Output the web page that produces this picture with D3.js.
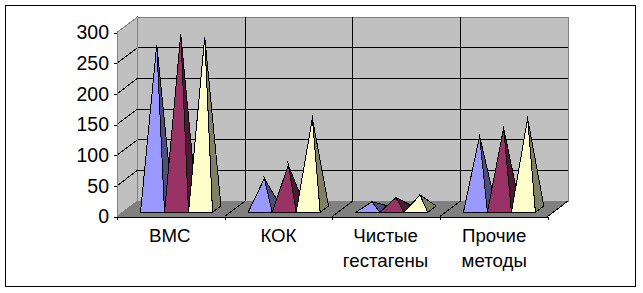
<!DOCTYPE html>
<html><head><meta charset="utf-8">
<script src="https://cdn.jsdelivr.net/npm/d3@7"></script>
<style>html,body{margin:0;padding:0;background:#fff}svg{display:block}text{font-family:"Liberation Sans",Arial,sans-serif;fill:#000}path,line,rect{shape-rendering:crispEdges}</style>
</head><body><svg id="c" width="643" height="293"></svg>
<script>
const categories = [["ВМС"], ["КОК"], ["Чистые", "гестагены"], ["Прочие", "методы"]];
const seriesNames = ["s1", "s2", "s3"];
const seriesA = [268, 50, 12, 119];
const seriesB = [285, 72, 19, 132];
const seriesC = [281, 148, 23, 148];
const seriesValues = [seriesA, seriesB, seriesC];
const frontColors = ["#9999ff", "#993366", "#ffffcc"];
const sideColors = ["#4d4d80", "#4d1a33", "#808066"];
const yTicks = [0, 50, 100, 150, 200, 250, 300];
const labelDx = [-1, 0, -0.5, 0.5];

const svg = d3.select("#c");
svg.append("rect").attr("x", 5.5).attr("y", 5.5).attr("width", 630).attr("height", 281)
  .attr("fill", "#fff").attr("stroke", "#000");

const x0 = d3.scaleBand().domain(d3.range(categories.length)).range([117, 547.5]);
const x1 = d3.scaleBand().domain(seriesNames).range([18, 90]);
const y = d3.scaleLinear().domain([0, 300]).range([216.5, 32.5]);
const depthX = 20.5, depthY = 15.5;
const p = (x, v, d) => [x + depthX * d, y(v) - depthY * d];
const poly = pts => "M" + pts.map(q => q.join(",")).join("L") + "Z";
const xL = x0.range()[0], xR = x0.range()[1], yMax = 300;

// walls and floor
svg.append("path").attr("d", poly([p(xL,0,1), p(xL,yMax,1), p(xR,yMax,1), p(xR,0,1)]))
  .attr("fill", "#c0c0c0").attr("stroke", "#808080");
svg.append("path").attr("d", poly([p(xL,0,0), p(xL,yMax,0), p(xL,yMax,1), p(xL,0,1)]))
  .attr("fill", "#c0c0c0").attr("stroke", "#808080");
svg.append("path").attr("d", poly([p(xL,0,0), p(xR,0,0), p(xR,0,1), p(xL,0,1)]))
  .attr("fill", "#808080").attr("stroke", "none");

// gridlines
const line = (a, b) => svg.append("line").attr("x1", a[0]).attr("y1", a[1]).attr("x2", b[0]).attr("y2", b[1])
  .attr("stroke", "#000");
yTicks.filter(t => t > 0 && t < yMax).forEach(t => {
  line(p(xL,t,1), p(xR,t,1));
  line(p(xL,t,0), p(xL,t,1));
});
d3.range(1, categories.length).forEach(i => {
  line(p(x0(i),0,1), p(x0(i),yMax,1));
});
d3.range(1, categories.length + 1).forEach(i => {
  const xv = i < categories.length ? x0(i) : xR;
  line(p(xv,0,0), p(xv,0,1));
});

// pyramids
const dFront = 0.27, dBack = 0.68, dMid = (dFront + dBack) / 2;
categories.forEach((c, i) => {
  seriesNames.forEach((s, j) => {
    const v = seriesValues[j][i];
    const l = x0(i) + x1(s), r = l + x1.bandwidth();
    const apex = p((l + r) / 2, v, dMid);
    const g = svg.append("g").attr("stroke", "#000").attr("stroke-linejoin", "miter").attr("stroke-miterlimit", 12);
    g.append("path").attr("d", poly([apex, p(r,0,dFront), p(r,0,dBack)])).attr("fill", sideColors[j]);
    g.append("path").attr("d", poly([apex, p(l,0,dFront), p(r,0,dFront)])).attr("fill", frontColors[j]);
  });
});

// axes
svg.append("g").attr("transform", `translate(${xL},0)`)
  .call(d3.axisLeft(y).tickValues(yTicks).tickSize(3).tickPadding(5))
  .call(g => g.select(".domain").attr("stroke", "#808080"))
  .call(g => g.selectAll("text").attr("font-size", 19.5).attr("font-family", '"Liberation Sans",Arial,sans-serif'));
const xAxisScale = d3.scaleLinear().domain([0, categories.length]).range([xL, xR]);
svg.append("g").attr("transform", `translate(0,${y(0)})`)
  .call(d3.axisBottom(xAxisScale).tickValues(d3.range(categories.length + 1)).tickSize(3).tickFormat(""))
  .call(g => g.select(".domain").attr("stroke", "#000"));

// category labels
categories.forEach((c, i) => {
  c.forEach((t, k) => {
    svg.append("text").text(t).attr("x", x0(i) + x0.bandwidth() / 2 + labelDx[i]).attr("y", 242 + k * 24.5)
      .attr("text-anchor", "middle").attr("font-size", 18.7);
  });
});
</script></body></html>
